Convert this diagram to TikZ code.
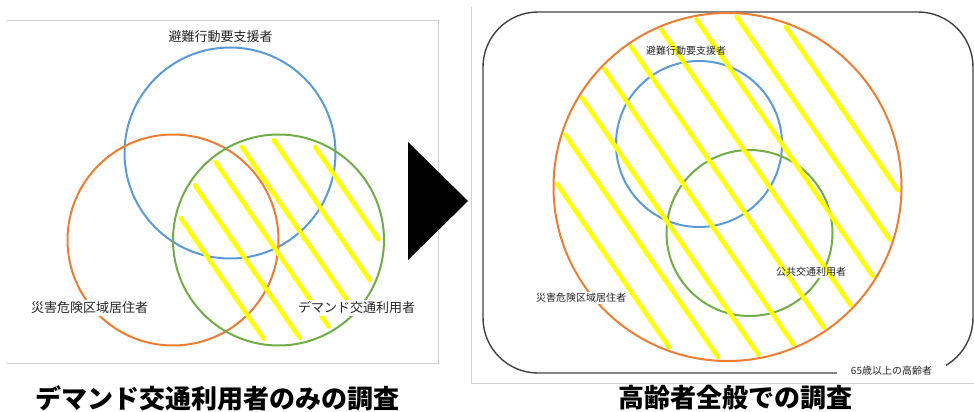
\documentclass[tikz,border=0pt]{standalone}
\usepackage{fontspec}
\setmainfont{Noto Sans CJK JP}
\usetikzlibrary{calc}
\definecolor{cblue}{HTML}{5B9BD5}
\definecolor{corange}{HTML}{ED7D31}
\definecolor{cgreen}{HTML}{70AD47}
\definecolor{cyellow}{HTML}{FFFF00}
\definecolor{cframe}{HTML}{404040}
\begin{document}
\begin{tikzpicture}[x=1pt,y=-1pt,
  ring/.style={circle, draw, line width=2pt, inner sep=0pt, minimum size=#1},
  stripe/.style={draw=cyellow, line width=4.5pt, line cap=round},
  lblL/.style={font=\fontsize{13}{13}\selectfont, inner sep=1.5pt, text=black!85},
  lblR/.style={font=\fontsize{10}{10}\selectfont, inner sep=1.5pt, text=black!85},
  ttl/.style={font=\fontsize{26}{26}\selectfont\bfseries, text=black},
  panel/.style={draw=black!18, line width=0.7pt}]
\useasboundingbox (0,0) rectangle (974,412);
% ---------- left panel ----------
\draw[panel] (7,20) -- (438,20) -- (438,363) -- (7,363);
\node[ring=211pt, draw=cblue]   (blueL) at (230,153) {};
\node[ring=211pt, draw=corange] (orL)   at (173,240) {};
\node[ring=211pt, draw=cgreen]  (grL)   at (278.5,240) {};
\foreach \k in {0,...,5}{
  \pgfmathsetmacro{\p}{-68.1+30.2*\k}
  \pgfmathsetmacro{\h}{100*sqrt(1-(\p/100)^2)}
  \draw[stripe] ($(grL.center)+({0.824*\p-0.566*\h},{-0.566*\p-0.824*\h})$)
             -- ($(grL.center)+({0.824*\p+0.566*\h},{-0.566*\p+0.824*\h})$);
}
\node[lblL] (tBlueL) at (220.5,37) {避難行動要支援者};
\node[lblL, fill=white] (tOrL) at (89.5,308) {災害危険区域居住者};
\node[lblL, fill=white] (tGrL) at (356.5,308) {デマンド交通利用者};
% arrow
\fill (408,142) -- (408,260) -- (468,201) -- cycle;
% ---------- right panel ----------
\draw[panel] (471,7) -- (471,383) -- (974,383);
\draw[draw=cframe, line width=1.4pt, rounded corners=55pt] (483,12) rectangle (973,373);
\node[ring=348pt, draw=corange] (orR)   at (727.5,187) {};
\node[ring=166pt, draw=cblue]   (blueR) at (699,144) {};
\node[ring=166pt, draw=cgreen]  (grR)   at (749.5,233) {};
\node[lblR, fill=white] (bgPub) at (811,272) {\phantom{公共交通利用者}};
\foreach \k in {0,...,8}{
  \pgfmathsetmacro{\p}{-138.8+34.7*\k}
  \pgfmathsetmacro{\h}{170.5*sqrt(1-(\p/170.5)^2)}
  \draw[stripe] ($(orR.center)+({0.824*\p-0.566*\h},{-0.566*\p-0.824*\h})$)
             -- ($(orR.center)+({0.824*\p+0.566*\h},{-0.566*\p+0.824*\h})$);
}
\node[lblR] (tBlueR) at (686,51) {避難行動要支援者};
\node[lblR] (tPub) at (811,272) {公共交通利用者};
\node[lblR, fill=white] (tOrR) at (581,298) {災害危険区域居住者};
\node[lblR, fill=white, inner xsep=14pt, inner ysep=5pt] (tAge) at (891.5,371) {65歳以上の高齢者};
% ---------- titles ----------
\node[ttl] (titleL) at (217.5,398) {デマンド交通利用者のみの調査};
\node[ttl] (titleR) at (735,398) {高齢者全般での調査};
\end{tikzpicture}
\end{document}
